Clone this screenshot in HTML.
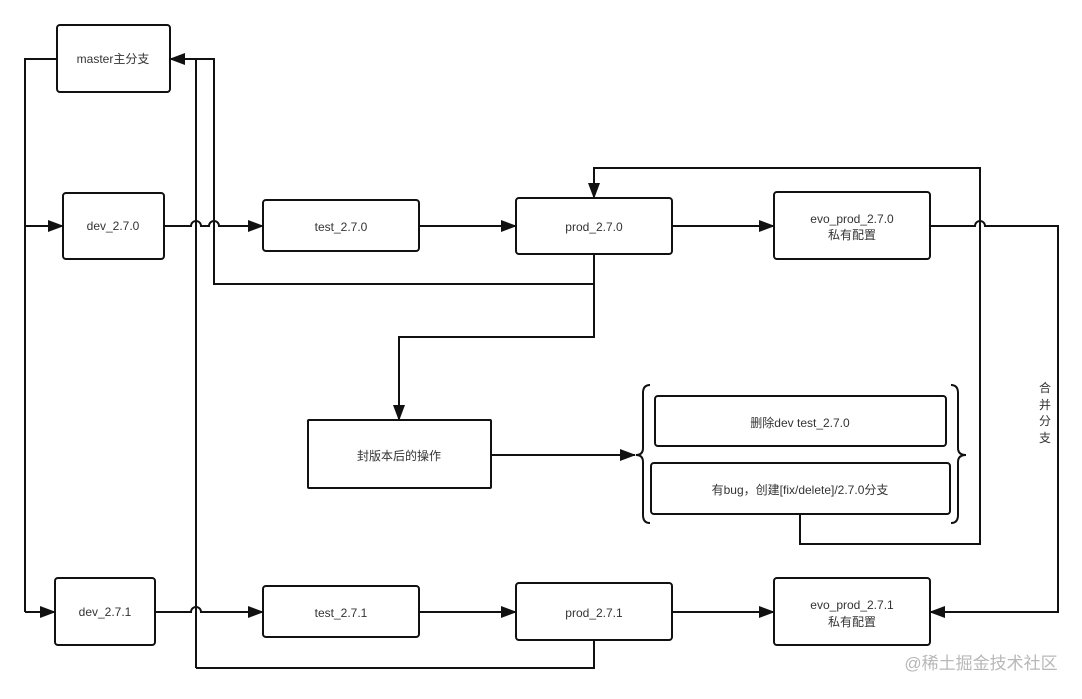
<!DOCTYPE html>
<html><head><meta charset="utf-8"><style>
body{margin:0;background:#fff;}
svg text{font-family:"Liberation Sans","Noto Sans CJK SC",sans-serif;font-size:12px;fill:#333;text-anchor:middle;}
</style></head><body>
<svg width="1082" height="694" viewBox="0 0 1082 694" xmlns="http://www.w3.org/2000/svg">
<defs><marker id="a" markerWidth="16" markerHeight="12" refX="15" refY="6" orient="auto" markerUnits="userSpaceOnUse"><path d="M0,0 L16,6 L0,12 z" fill="#111"/></marker></defs>
<g fill="none" stroke="#111" stroke-width="2">
<rect x="57" y="25" width="113" height="67" rx="3"/>
<rect x="63" y="193" width="101" height="66" rx="3"/>
<rect x="263" y="200" width="156" height="51" rx="3"/>
<rect x="516" y="198" width="156" height="56" rx="3"/>
<rect x="774" y="192" width="156" height="67" rx="3"/>
<rect x="308" y="420" width="183" height="68" rx="1"/>
<rect x="655" y="396" width="291" height="50" rx="3"/>
<rect x="651" y="463" width="299" height="51" rx="3"/>
<rect x="55" y="578" width="100" height="67" rx="3"/>
<rect x="263" y="586" width="156" height="51" rx="3"/>
<rect x="516" y="583" width="156" height="57" rx="3"/>
<rect x="774" y="578" width="156" height="67" rx="3"/>
<path d="M57,59 H25 V612"/>
<path d="M25,226 H63" marker-end="url(#a)"/>
<path d="M25,612 H55" marker-end="url(#a)"/>
<path d="M196,668 V59 H170" marker-end="url(#a)"/>
<path d="M196,59 H214 V284 H594"/>
<path d="M594,254 V337 H399 V420" marker-end="url(#a)"/>
<path d="M594,640 V668 H196"/>
<path d="M164,226 H191 A5,5 0 0 1 201,226 H209 A5,5 0 0 1 219,226 H263" marker-end="url(#a)"/>
<path d="M419,226 H516" marker-end="url(#a)"/>
<path d="M672,226 H774" marker-end="url(#a)"/>
<path d="M930,226 H975 A5,5 0 0 1 985,226 H1058 V612 H930" marker-end="url(#a)"/>
<path d="M800,514 V544 H980 V168 H594 V198" marker-end="url(#a)"/>
<path d="M491,455 H635" marker-end="url(#a)"/>
<path d="M155,612 H191 A5,5 0 0 1 201,612 H263" marker-end="url(#a)"/>
<path d="M419,612 H516" marker-end="url(#a)"/>
<path d="M672,612 H774" marker-end="url(#a)"/>
<path d="M650,385 Q643,385 643,393 V448 Q643,455 636,455 Q643,455 643,462 V515 Q643,523 650,523"/>
<path d="M951,385 Q958,385 958,393 V448 Q958,455 966,455 Q958,455 958,462 V515 Q958,523 951,523"/>
</g>
<text x="113" y="63">master主分支</text>
<text x="113" y="230">dev_2.7.0</text>
<text x="341" y="231">test_2.7.0</text>
<text x="594" y="231">prod_2.7.0</text>
<text x="852" y="223">evo_prod_2.7.0</text>
<text x="852" y="239">私有配置</text>
<text x="399" y="460">封版本后的操作</text>
<text x="800" y="427">删除dev test_2.7.0</text>
<text x="800" y="494">有bug，创建[fix/delete]/2.7.0分支</text>
<text x="105" y="616">dev_2.7.1</text>
<text x="341" y="617">test_2.7.1</text>
<text x="594" y="617">prod_2.7.1</text>
<text x="852" y="609">evo_prod_2.7.1</text>
<text x="852" y="626">私有配置</text>
<text x="1045" y="392">合</text>
<text x="1045" y="409">并</text>
<text x="1045" y="425">分</text>
<text x="1045" y="442">支</text>
<text x="981" y="669" style="font-size:17px;fill:#b8b8b8">@稀土掘金技术社区</text>
</svg>
</body></html>
